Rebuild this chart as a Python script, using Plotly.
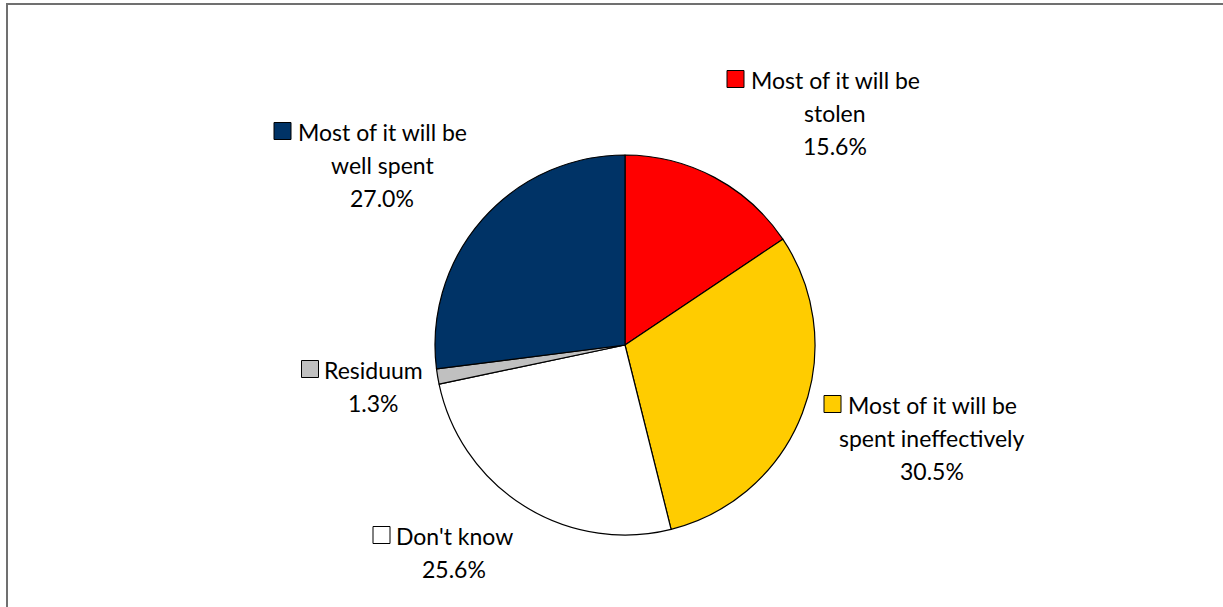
import plotly.graph_objects as go

W, H = 1223, 607

# Data
labels = ["Most of it will be stolen", "Most of it will be spent ineffectively",
          "Don't know", "Residuum", "Most of it will be well spent"]
values = [15.6, 30.5, 25.6, 1.3, 27.0]
colors = ["#FF0000", "#FFCC00", "#FFFFFF", "#C0C0C0", "#003366"]

# label text lines (wrapping) and positions (px) of label block: center x, first line y
label_lines = [
    ["Most of it will be", "stolen"],
    ["Most of it will be", "spent ineffectively"],
    ["Don't know"],
    ["Residuum"],
    ["Most of it will be", "well spent"],
]
label_pos = [(835, 79), (932, 404), (454, 535), (373, 369), (382, 131)]
line_gap = 33
font_family = "Lato"
font_size = 23

def px(x):
    return x / W

def py(y):
    return 1 - y / H

cx, cy, r = 625, 345, 190

fig = go.Figure(go.Pie(
    labels=labels,
    values=values,
    sort=False,
    direction="clockwise",
    rotation=0,
    marker=dict(colors=colors, line=dict(color="#000000", width=1.2)),
    textinfo="none",
    hoverinfo="label+percent",
    showlegend=False,
    domain=dict(x=[px(cx - r), px(cx + r)], y=[py(cy + r), py(cy - r)]),
))

annotations = []
shapes = []
for lab, lines, val, col, (lx, ly) in zip(labels, label_lines, values, colors, label_pos):
    all_lines = lines + [f"{val:.1f}%"]
    for i, t in enumerate(all_lines):
        annotations.append(dict(
            x=px(lx), y=py(ly + i * line_gap + 1), xref="paper", yref="paper",
            text=t, showarrow=False, xanchor="center", yanchor="middle",
            font=dict(family=font_family, size=font_size, color="#000000"),
        ))
    first = all_lines[0]
    sq = 17
    est_w = {"Most of it will be": 170, "Don't know": 116, "Residuum": 97}.get(first, 150)
    x1 = lx - est_w / 2 - 6
    shapes.append(dict(
        type="rect", xref="paper", yref="paper",
        x0=px(x1 - sq), x1=px(x1), y0=py(ly + sq / 2), y1=py(ly - sq / 2),
        fillcolor=col, line=dict(color="#000000", width=1),
    ))

# outer frame
shapes.append(dict(
    type="rect", xref="paper", yref="paper",
    x0=px(7), x1=px(W + 20), y0=py(H + 20), y1=py(4),
    line=dict(color="#707070", width=2), fillcolor="rgba(0,0,0,0)",
))

fig.update_layout(
    width=W, height=H,
    margin=dict(l=0, r=0, t=0, b=0),
    paper_bgcolor="white",
    plot_bgcolor="white",
    annotations=annotations,
    shapes=shapes,
)

fig.write_html("out.html")
